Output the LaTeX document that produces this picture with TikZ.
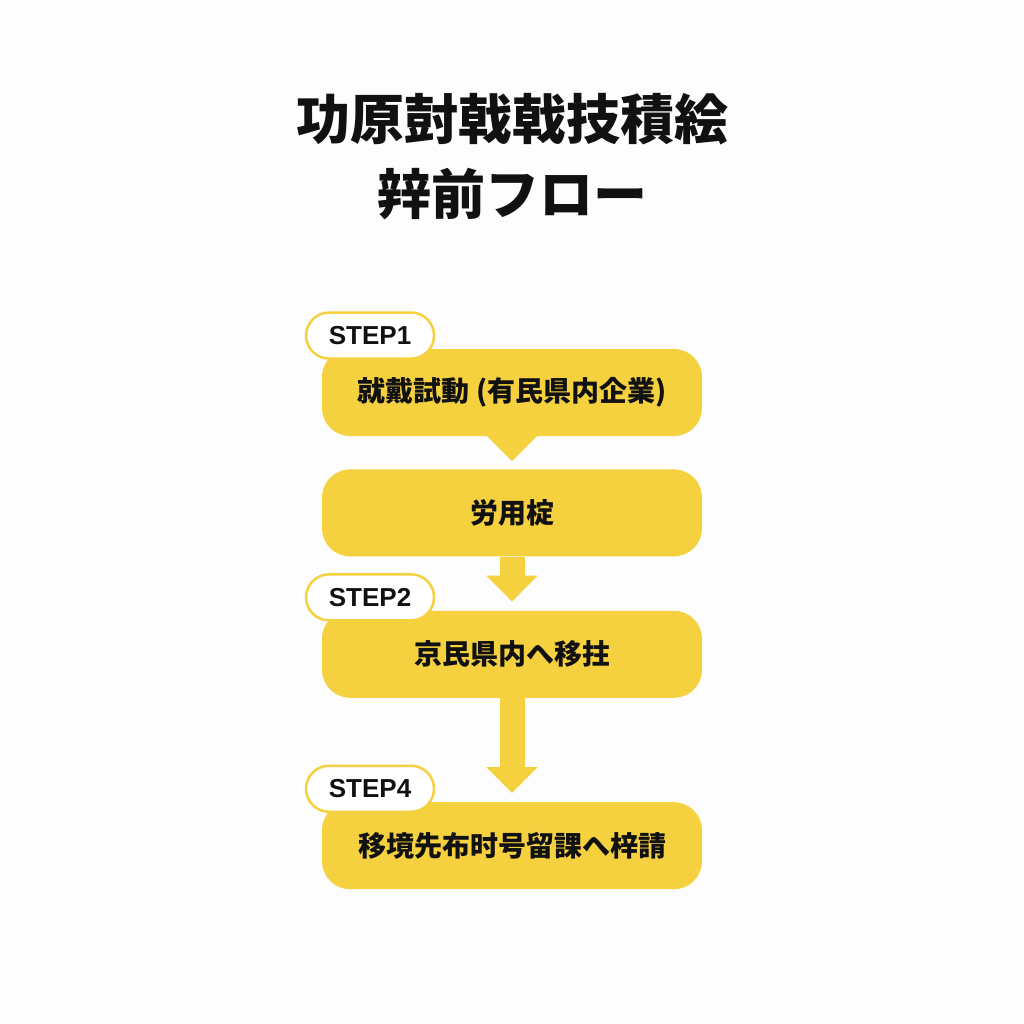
\documentclass[tikz,border=0pt]{standalone}
\usepackage{fontspec}
\newfontfamily\cjk{Noto Sans CJK JP}
\newfontfamily\stepfont{Liberation Sans}
\usetikzlibrary{positioning,arrows.meta}
\definecolor{flowyellow}{RGB}{245,209,64}
\definecolor{inkblack}{RGB}{17,17,17}
\definecolor{paper}{RGB}{253,253,253}

\begin{document}
\begin{tikzpicture}[
		x=1pt, y=-1pt,
		titletext/.style={align=center, text=inkblack, font=\cjk\bfseries\fontsize{54}{75}\selectfont},
		flowbox/.style={rectangle, fill=flowyellow, rounded corners=28pt, minimum width=380pt, minimum height=87pt, text=inkblack, font=\cjk\bfseries\fontsize{28}{34}\selectfont},
		steptag/.style={rectangle, draw=flowyellow, line width=2.5pt, fill=white, rounded corners=23pt, minimum width=128pt, minimum height=46pt, text=inkblack, font=\stepfont\bfseries\fontsize{26}{30}\selectfont},
		flowarrow/.style={draw=flowyellow, line width=25pt, -{Triangle[width=50pt,length=26pt]}, shorten >=9pt}
	]
	\fill[paper] (0,0) rectangle (1024,1024);
	\useasboundingbox (0,0) rectangle (1024,1024);

	% title
	\node[titletext] (title) at (512,157) {功原尌戟戟技積絵\\辡前フロー};

	% flow boxes
	\node[flowbox] (b1) at (512,392.5) {就戴試動 (有民県内企業)};
	\node[flowbox, below=33pt of b1] (b2) {労用椗};
	\node[flowbox, below=54pt of b2] (b3) {京民県内へ移拄};
	\node[flowbox, below=104pt of b3] (b4) {移境先布时号留課へ梓請};

	% connectors
	\fill[flowyellow] ([xshift=-25pt]b1.south) -- ([xshift=25pt]b1.south) -- ([yshift=-25pt]b1.south) -- cycle;
	\draw[flowarrow] (b2) -- (b3);
	\draw[flowarrow] (b3) -- (b4);

	% step tags
	\node[steptag, anchor=south west] (s1) at ([xshift=-17pt,yshift=-11pt]b1.north west) {STEP1};
	\node[steptag, anchor=south west] (s2) at ([xshift=-17pt,yshift=-11pt]b3.north west) {STEP2};
	\node[steptag, anchor=south west] (s4) at ([xshift=-17pt,yshift=-11pt]b4.north west) {STEP4};
\end{tikzpicture}
\end{document}
